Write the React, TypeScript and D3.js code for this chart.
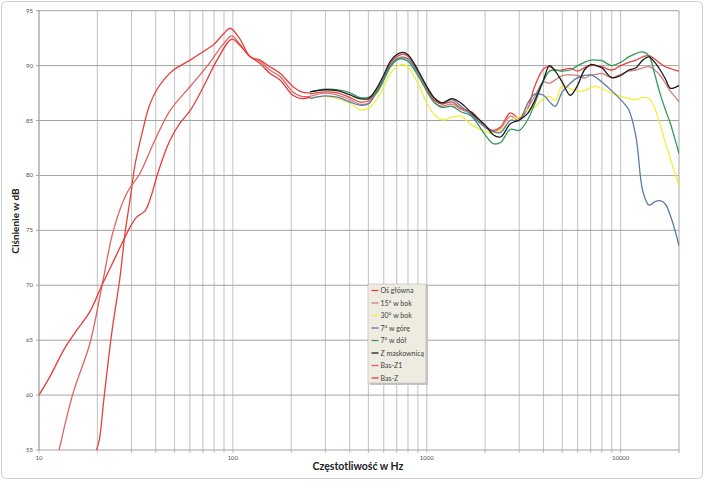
import React, { useRef, useEffect } from "react";
import * as d3 from "d3";

const W = 705;
const H = 481;

// pomiary w pasmie średnio-wysokim (Hz)
const freqHigh = [250, 300, 350, 400, 450, 500, 550, 600, 650, 700, 750, 800, 900, 1000, 1100, 1200, 1350, 1500, 1700, 2000, 2200, 2400, 2700, 3000, 3300, 3600, 4000, 4300, 4600, 5000, 5500, 6000, 6500, 7000, 7500, 8000, 9000, 10000, 11000, 12000, 13000, 14000, 15000, 16000, 17000, 18000, 19000, 20000];

const osGlowna = [87.4, 87.6, 87.5, 87.1, 86.7, 86.8, 87.7, 88.9, 90.2, 90.8, 91.05, 90.85, 89.45, 87.9, 86.8, 86.5, 86.7, 86.1, 85.8, 84.5, 84.1, 84.4, 85.7, 85.2, 86.0, 88.1, 89.7, 89.9, 89.6, 89.6, 89.75, 89.5, 89.8, 90.0, 90.0, 89.9, 89.6, 90.0, 90.3, 90.5, 90.8, 90.9, 90.6, 90.2, 89.9, 89.75, 89.6, 89.5];
const bok15 = [87.2, 87.5, 87.3, 86.9, 86.5, 86.6, 87.5, 88.7, 89.9, 90.6, 90.8, 90.6, 89.3, 87.7, 86.6, 86.3, 86.5, 86.0, 85.6, 84.4, 84.0, 84.3, 85.4, 85.0, 86.1, 87.2, 88.5, 88.4, 88.7, 89.1, 89.15, 89.1, 88.85, 89.15, 89.2, 89.3, 88.9, 89.2, 89.5, 89.6, 89.8, 89.9, 89.6, 89.1, 88.4, 87.7, 87.2, 86.7];
const bok30 = [87.05, 87.2, 87.0, 86.6, 86.0, 86.1, 86.9, 88.1, 89.3, 89.9, 90.1, 89.9, 88.4, 86.6, 85.5, 85.05, 85.3, 85.4, 84.6, 84.0, 83.85, 84.1, 85.05, 85.35, 86.0, 86.2, 87.0, 87.2, 86.8, 88.2, 87.9, 87.7, 87.7, 88.0, 88.1, 87.9, 87.5, 87.2, 87.0, 86.9, 87.1, 87.0, 86.1, 84.6, 83.0, 81.6, 80.3, 79.0];
const gora7 = [87.0, 87.25, 87.1, 86.7, 86.4, 86.5, 87.6, 88.9, 90.0, 90.6, 90.7, 90.6, 89.4, 88.1, 87.0, 86.6, 86.9, 86.3, 85.5, 84.4, 84.0, 83.9, 85.0, 85.0, 86.5, 87.4, 87.3, 86.7, 86.3, 87.6, 88.4, 88.9, 89.1, 89.15, 88.9, 88.5, 87.7, 86.9, 86.0, 83.5, 78.6, 77.3, 77.6, 77.7, 77.4, 76.4, 75.1, 73.6];
const dol7 = [87.6, 87.85, 87.8, 87.55, 87.1, 87.1, 87.5, 88.7, 89.9, 90.5, 90.6, 90.4, 89.1, 87.7, 86.6, 86.2, 86.3, 85.8, 85.4, 83.7, 82.9, 83.0, 84.2, 84.1, 85.0, 86.5, 88.6, 89.5, 89.6, 89.5, 89.6, 90.0, 90.3, 90.5, 90.5, 90.45, 90.0, 90.3, 90.8, 91.1, 91.25, 90.9, 89.2, 87.4, 86.0, 84.8, 83.4, 82.0];
const maskownica = [87.6, 87.8, 87.7, 87.35, 87.0, 87.0, 87.9, 89.15, 90.4, 91.0, 91.2, 91.0, 89.6, 88.1, 87.0, 86.6, 87.0, 86.6, 85.7, 84.6, 83.7, 83.5, 84.7, 85.05, 85.6, 86.8, 88.7, 90.0, 89.5, 88.5, 87.3, 88.2, 89.6, 90.1, 90.0, 89.8, 88.9, 89.1, 89.6, 89.8, 90.5, 90.8, 90.3, 89.6, 88.8, 87.95, 88.0, 88.2];

// pomiary niskotonowe
const freqBasOs = [19.8, 20.5, 21.6, 23.7, 26.2, 27.8, 29.5, 31.3, 34.5, 37, 40.5, 45, 49.4, 60.2, 70.6, 79.4, 89.6, 96.9, 108, 123, 138, 155, 175, 204, 226, 250];
const basOs = [55.0, 56.0, 59.6, 65.6, 70.8, 74.8, 77.8, 81.0, 84.3, 86.3, 87.8, 88.9, 89.6, 90.5, 91.3, 91.9, 92.9, 93.4, 92.5, 90.8, 90.5, 89.9, 89.3, 88.1, 87.6, 87.5];
const freqBasZ1 = [12.7, 15, 18.3, 21.1, 24.2, 28.4, 33.2, 38.9, 47.4, 60.2, 73.3, 89.6, 98.5, 108, 123, 138, 155, 175, 204, 226, 250];
const basZ1 = [55.0, 60.2, 64.7, 69.9, 75.0, 78.4, 80.2, 82.9, 85.9, 88.1, 89.9, 92.0, 92.7, 92.0, 90.8, 90.4, 89.6, 89.0, 87.6, 87.2, 87.2];
const freqBasZ = [10, 11.4, 13.4, 15.5, 18.3, 21.1, 25, 29.5, 31.9, 35.3, 38, 40.5, 44, 47.4, 53, 60.2, 70.6, 82.8, 98.5, 108, 123, 138, 155, 175, 204, 226, 250];
const basZ = [60.0, 61.7, 64.1, 65.8, 67.6, 70.0, 72.7, 75.3, 76.2, 76.8, 78.2, 79.9, 81.8, 83.2, 84.7, 85.9, 88.1, 90.5, 92.4, 91.9, 90.8, 90.2, 89.3, 88.7, 87.3, 87.0, 87.1];

const legendNames = ["Oś główna", "15° w bok", "30° w bok", "7° w górę", "7° w dół", "Z maskownicą", "Bas-Z1", "Bas-Z"];
const legendColors = ["#e5413b", "#cf7f7f", "#f0f03c", "#5b7aa6", "#35985a", "#1c1c1c", "#e06262", "#e83a3a"];

const yTicks = [55, 60, 65, 70, 75, 80, 85, 90, 95];
const xTickLabels = [10, 100, 1000, 10000];

const FONT = "Lato, 'Open Sans', sans-serif";

export default function App() {
  const svgRef = useRef<SVGSVGElement>(null);

  useEffect(() => {
    if (!svgRef.current) return;
    const svg = d3.select(svgRef.current);
    svg.selectAll("*").remove();

    const left = 39, right = 679, top = 10.7, bottom = 450;
    const x = d3.scaleLog().domain([10, 20000]).range([left, right]);
    const y = d3.scaleLinear().domain([55, 95]).range([bottom, top]);

    // tło i ramka
    svg.append("rect").attr("width", W).attr("height", H).attr("fill", "#fff");
    svg.append("rect")
      .attr("x", 1.5).attr("y", 1.5).attr("width", 701).attr("height", 477).attr("rx", 4)
      .attr("fill", "none").attr("stroke", "#cfcfcf");

    // pionowa siatka (log)
    const minor: number[] = [];
    for (let d = 10; d <= 10000; d *= 10) {
      for (let k = 1; k <= 9; k++) {
        if (d * k <= 20000) minor.push(d * k);
      }
    }
    minor.push(20000);
    svg.append("g").selectAll("line").data(minor).join("line")
      .attr("x1", (d) => x(d)).attr("x2", (d) => x(d))
      .attr("y1", top).attr("y2", bottom + 3)
      .attr("stroke", "#c6c6c6").attr("stroke-width", 1.1);

    // pozioma siatka
    svg.append("g").selectAll("line").data(yTicks).join("line")
      .attr("x1", left - 3).attr("x2", right)
      .attr("y1", (d) => y(d)).attr("y2", (d) => y(d))
      .attr("stroke", "#a3a3a3").attr("stroke-width", 1);

    svg.append("line").attr("x1", left).attr("x2", left).attr("y1", top).attr("y2", bottom)
      .attr("stroke", "#a3a3a3");

    // etykiety osi Y
    svg.append("g").selectAll("text").data(yTicks).join("text")
      .attr("x", 33).attr("y", (d) => y(d) + 2)
      .attr("text-anchor", "end")
      .style("font-family", FONT).style("font-size", "6px").style("fill", "#505050")
      .text((d) => d);

    // etykiety osi X
    svg.append("g").selectAll("text").data(xTickLabels).join("text")
      .attr("x", (d) => x(d)).attr("y", 460)
      .attr("text-anchor", "middle")
      .style("font-family", FONT).style("font-size", "6px").style("fill", "#505050")
      .text((d) => d);

    // tytuły osi
    svg.append("text")
      .attr("x", 358).attr("y", 470)
      .attr("text-anchor", "middle")
      .style("font-family", FONT).style("font-size", "10.5px").style("font-weight", "bold").style("fill", "#222")
      .text("Częstotliwość w Hz");
    svg.append("text")
      .attr("transform", "translate(19,221) rotate(-90)")
      .attr("text-anchor", "middle")
      .style("font-family", FONT).style("font-size", "10px").style("font-weight", "bold").style("fill", "#222")
      .text("Ciśnienie w dB");

    // krzywe
    svg.append("clipPath").attr("id", "plot-clip")
      .append("rect").attr("x", left).attr("y", top - 2).attr("width", right - left).attr("height", bottom - top + 2);

    const line = d3.line<[number, number]>()
      .x((d) => x(d[0]))
      .y((d) => y(d[1]))
      .curve(d3.curveCatmullRom.alpha(0.5));

    const series: { f: number[]; v: number[]; color: string }[] = [
      { f: freqBasOs, v: basOs, color: legendColors[0] },
      { f: freqHigh, v: osGlowna, color: legendColors[0] },
      { f: freqHigh, v: bok15, color: legendColors[1] },
      { f: freqHigh, v: bok30, color: legendColors[2] },
      { f: freqHigh, v: gora7, color: legendColors[3] },
      { f: freqHigh, v: dol7, color: legendColors[4] },
      { f: freqHigh, v: maskownica, color: legendColors[5] },
      { f: freqBasZ1, v: basZ1, color: legendColors[6] },
      { f: freqBasZ, v: basZ, color: legendColors[7] },
    ];

    const g = svg.append("g").attr("clip-path", "url(#plot-clip)");
    series.forEach((s) => {
      const pts = s.f.map((f, i) => [f, s.v[i]] as [number, number]);
      g.append("path")
        .attr("d", line(pts))
        .attr("fill", "none")
        .attr("stroke", s.color)
        .attr("stroke-width", 1.3);
    });

    // legenda
    const lx = 368, ly = 284, lw = 58, lh = 99;
    svg.append("rect").attr("x", lx + 2).attr("y", ly + 2).attr("width", lw).attr("height", lh).attr("fill", "#c4c4c4");
    svg.append("rect").attr("x", lx).attr("y", ly).attr("width", lw).attr("height", lh)
      .attr("fill", "#eeece1").attr("stroke", "#b8b8b8").attr("stroke-width", 0.6);
    const rowY = d3.scaleLinear().domain([0, legendNames.length - 1]).range([ly + 6.5, ly + lh - 5]);
    const lg = svg.append("g").selectAll("g").data(legendNames).join("g")
      .attr("transform", (_, i) => `translate(0,${rowY(i)})`);
    lg.append("line").attr("x1", lx + 3.5).attr("x2", lx + 10.5)
      .attr("stroke", (_, i) => legendColors[i]).attr("stroke-width", 1.3);
    lg.append("text").attr("x", lx + 12.5).attr("y", 2.5)
      .style("font-family", FONT).style("font-size", "7px").style("fill", "#404040")
      .text((d) => d);
  }, []);

  return (
    <svg
      ref={svgRef}
      width={W}
      height={H}
      viewBox={`0 0 ${W} ${H}`}
      style={{ position: "absolute", left: 0, top: 0 }}
    />
  );
}
